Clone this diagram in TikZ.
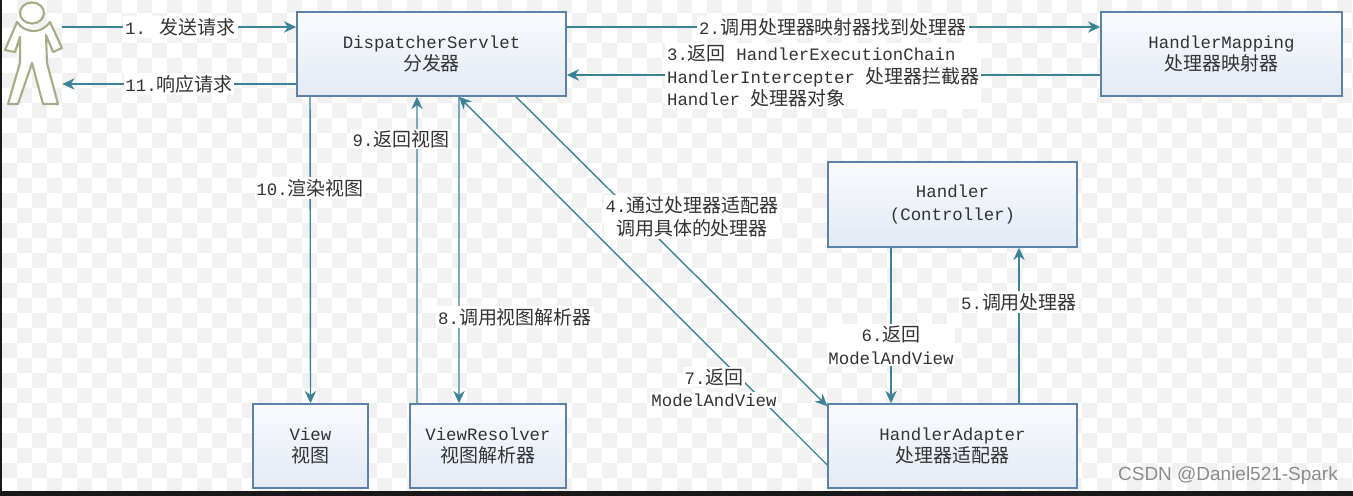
\documentclass[tikz,border=0pt]{standalone}
\usepackage{fontspec}
\setmainfont{Liberation Mono}
\newfontfamily\zhfont{Noto Sans CJK SC}
\newfontfamily\markfont{Liberation Sans}
\newcommand{\hz}[1]{{\zhfont\fontsize{10.8}{13}\selectfont #1}}
\usetikzlibrary{arrows.meta}

\definecolor{flowline}{HTML}{3C8299}
\definecolor{boxedge}{HTML}{5D82A8}
\definecolor{boxtop}{HTML}{F9FBFE}
\definecolor{boxlow}{HTML}{E3EAF4}
\definecolor{tile}{HTML}{F1F1F1}
\definecolor{inktext}{HTML}{333333}
\definecolor{figedge}{HTML}{A3AD88}

\tikzset{
  flowbox/.style={draw=boxedge, line width=0.9pt, top color=boxtop, bottom color=boxlow,
    align=center, text=inktext, inner sep=0pt},
  flow/.style={-{Stealth[length=7pt,width=6.5pt]}, draw=flowline, line width=0.8pt},
  flowlbl/.style={fill=white, text=inktext, align=center, inner sep=1pt}
}

\begin{document}
\begin{tikzpicture}[x=0.02cm, y=-0.02cm, font=\fontsize{9.9}{13}\selectfont]
    \useasboundingbox (0,0) rectangle (1353,496);

    % tiled backdrop
    \fill[white] (0,0) rectangle (1353,496);
    \begin{scope}
      \clip (0,0) rectangle (1353,496);
      \foreach \i in {0,...,90} {
        \foreach \j in {0,...,33} {
          \pgfmathparse{int(mod(\i+\j,2))}
          \ifnum\pgfmathresult=1
            \fill[tile] (2+15*\i,-2+15*\j) rectangle ++(15,15);
          \fi
        }
      }
    \end{scope}
    \fill[black!90] (0,0) rectangle (2,496);
    \fill[black!90] (0,491) rectangle (1353,496);

    % the boxes
    \node[flowbox, minimum width=5.38cm, minimum height=1.68cm] (disp) at (431.5,54) {DispatcherServlet\\\hz{分发器}};
    \node[flowbox, minimum width=4.82cm, minimum height=1.68cm] (mapping) at (1221.5,54) {HandlerMapping\\\hz{处理器映射器}};
    \node[flowbox, minimum width=4.98cm, minimum height=1.70cm] (handler) at (952.5,204.5) {Handler\\(Controller)};
    \node[flowbox, minimum width=4.98cm, minimum height=1.68cm] (adapter) at (952.5,446) {HandlerAdapter\\\hz{处理器适配器}};
    \node[flowbox, minimum width=2.30cm, minimum height=1.68cm] (view) at (310.5,446) {View\\\hz{视图}};
    \node[flowbox, minimum width=3.12cm, minimum height=1.68cm] (resolver) at (488,446) {ViewResolver\\\hz{视图解析器}};

    % the user figure
    \node[minimum width=1.2cm, minimum height=2.08cm, inner sep=0pt] (user) at (32,54) {};
    \draw[figedge, line width=1.2pt, fill=white, line join=round]
      (17,22) -- (5,50) -- (15,52) -- (20,37) -- (20,63) -- (8,104) -- (18,104)
      -- (32,63) -- (43,104) -- (58,104) -- (47,63) -- (46,35) -- (53,52) -- (62,48) -- (50,22)
      .. controls (42,34) and (25,34) .. (17,22) -- cycle;
    \draw[figedge, line width=1.2pt, fill=white] (32,13) ellipse (12 and 10.5);

    % the connectors
    \draw[flow] ([yshift=0.54cm]user.east) -- ([yshift=0.54cm]disp.west);
    \draw[flow] ([yshift=-0.60cm]disp.west) -- ([yshift=-0.60cm]user.east);
    \draw[flow] ([yshift=0.54cm]disp.east) -- ([yshift=0.54cm]mapping.west);
    \draw[flow] ([yshift=-0.42cm]mapping.west) -- ([yshift=-0.42cm]disp.east);
    \draw[flow] ([xshift=-2.43cm]disp.south) -- (view.north);
    \draw[flow] ([xshift=-1.42cm]resolver.north) -- ([xshift=-0.29cm]disp.south);
    \draw[flow] ([xshift=0.55cm]disp.south) -- ([xshift=-0.58cm]resolver.north);
    \draw[flow] ([yshift=-0.38cm]adapter.west) -- ([xshift=0.55cm]disp.south);
    \draw[flow] ([xshift=1.69cm]disp.south) -- ([yshift=-0.06cm]adapter.north west);
    \draw[flow] ([xshift=-1.23cm]handler.south) -- ([xshift=-1.23cm]adapter.north);
    \draw[flow] ([xshift=1.33cm]adapter.north) -- ([xshift=1.33cm]handler.south);

    % labels sit over the lines
    \node[flowlbl] (lbla) at (180.5,27) {1. \hz{发送请求}};
    \node[flowlbl] (lblk) at (179,84) {11.\hz{响应请求}};
    \node[flowlbl] (lblb) at (833,27) {2.\hz{调用处理器映射器找到处理器}};
    \node[flowlbl, align=left, anchor=west] (lblc) at (665,76) {3.\hz{返回} HandlerExecutionChain\\HandlerIntercepter \hz{处理器拦截器}\\Handler \hz{处理器对象}};
    \node[flowlbl] (lblj) at (310,188) {10.\hz{渲染视图}};
    \node[flowlbl] (lbli) at (401,139) {9.\hz{返回视图}};
    \node[flowlbl] (lblh) at (515,317) {8.\hz{调用视图解析器}};
    \node[flowlbl] (lbld) at (692,217) {4.\hz{通过处理器适配器}\\\hz{调用具体的处理器}};
    \node[flowlbl] (lblg) at (714,377) {7.\hz{返回}};
    \node[flowlbl] (lblgb) at (714,400) {ModelAndView};
    \node[flowlbl] (lblf) at (891,345) {6.\hz{返回}\\ModelAndView};
    \node[flowlbl] (lble) at (1019,302) {5.\hz{调用处理器}};

    \node[text=black!45, inner sep=0pt, font=\markfont\fontsize{10.8}{13}\selectfont] (csdn) at (1228,476) {CSDN @Daniel521-Spark};
  \end{tikzpicture}
\end{document}
